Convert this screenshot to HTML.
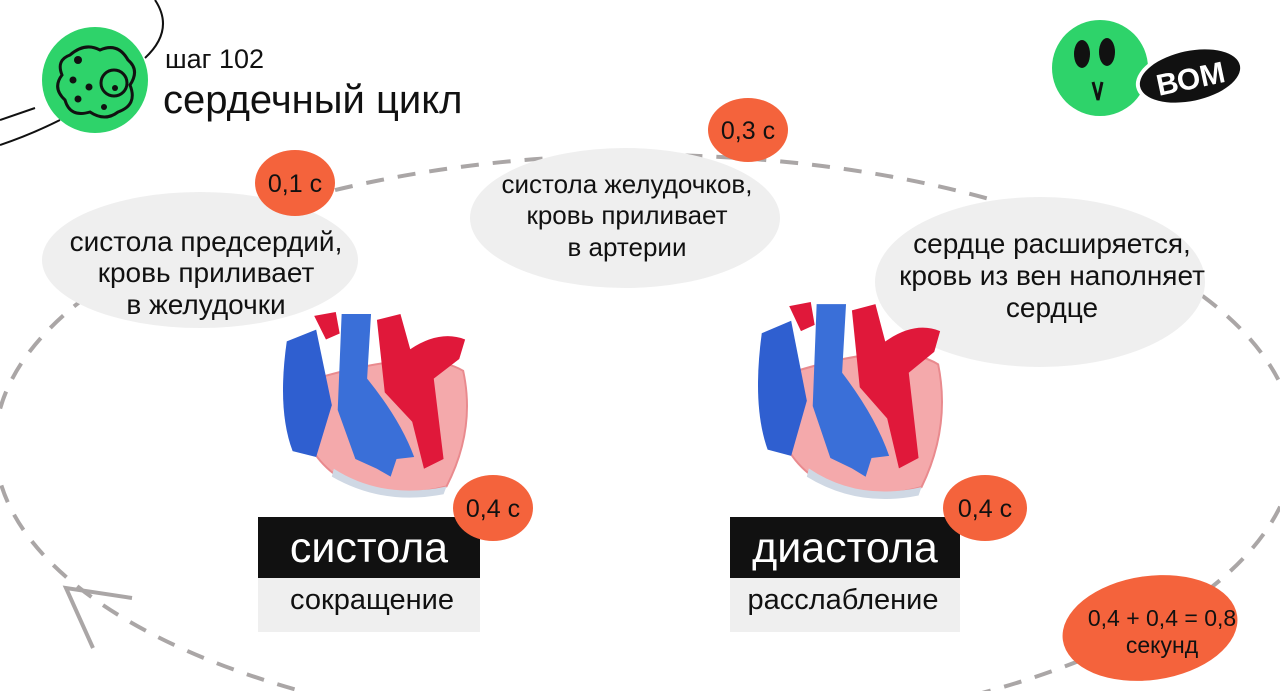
<!DOCTYPE html>
<html><head><meta charset="utf-8"><style>
html,body{margin:0;padding:0;background:#fff;width:1280px;height:691px;overflow:hidden;}
body{position:relative;font-family:"Liberation Sans","DejaVu Sans",sans-serif;}
svg{position:absolute;left:0;top:0;overflow:hidden;display:block;}
</style></head><body>
<svg width="1280" height="691" viewBox="0 0 1280 691" xmlns="http://www.w3.org/2000/svg" font-family="Liberation Sans, DejaVu Sans, sans-serif">
<defs>
<g id="heart">
 <path d="M35 70 Q15 130 60 165 Q110 195 175 178 Q205 120 192 60 Q150 35 35 70 Z" fill="#f4a9ab" stroke="#e98a8e" stroke-width="2"/>
 <path d="M60 160 Q110 192 175 178 L172 186 Q110 198 58 168 Z" fill="#cfd8e4"/>
 <path d="M12 30 L42 18 L58 95 L42 148 L18 142 Q2 100 12 30 Z" fill="#2f5fd0"/>
 <path d="M68 2 L98 2 L94 68 Q128 110 142 148 L124 150 L118 168 L104 160 L82 150 L64 100 Z" fill="#3a6fd8"/>
 <path d="M104 8 L128 2 L138 38 Q168 18 194 28 L188 48 L162 68 L172 150 L152 160 L140 112 L112 82 Z" fill="#e0183a"/>
 <path d="M40 4 L62 0 L66 22 L52 28 Z" fill="#e0183a"/>
</g>
</defs>
<ellipse cx="645" cy="445" rx="650" ry="290" fill="none" stroke="#aaa6a6" stroke-width="4" stroke-dasharray="18 14"/>
<path d="M132 598 L66 588 L93 648" fill="none" stroke="#aaa6a6" stroke-width="4"/>
<path d="M155 0 Q175 30 145 58" fill="none" stroke="#111" stroke-width="2"/>
<path d="M0 120 L35 108" stroke="#111" stroke-width="2"/>
<path d="M0 145 Q30 135 60 120" fill="none" stroke="#111" stroke-width="2"/>
<circle cx="95" cy="80" r="53" fill="#2ed36a"/>
<path d="M70 55 Q85 42 100 50 Q118 42 128 60 Q140 70 130 85 Q138 105 118 112 Q105 122 90 112 Q70 118 65 100 Q52 88 62 75 Q56 60 70 55 Z" fill="none" stroke="#111" stroke-width="3"/>
<circle cx="114" cy="83" r="13" fill="none" stroke="#111" stroke-width="3"/>
<circle cx="78" cy="60" r="4" fill="#111"/>
<circle cx="73" cy="80" r="3.5" fill="#111"/><circle cx="89" cy="87" r="3.5" fill="#111"/>
<circle cx="78" cy="99" r="3.5" fill="#111"/><circle cx="104" cy="107" r="3" fill="#111"/><circle cx="115" cy="88" r="3" fill="#111"/>
<text x="165" y="68" font-size="27" fill="#111">шаг 102</text>
<text x="163" y="113" font-size="40" fill="#111">сердечный цикл</text>
<circle cx="1100" cy="68" r="48" fill="#2ed36a"/>
<ellipse cx="1082" cy="54" rx="8" ry="14" fill="#111"/>
<ellipse cx="1107" cy="52" rx="8" ry="14" fill="#111"/>
<path d="M1093 82 L1098 100 L1102 82" fill="none" stroke="#111" stroke-width="3"/>
<ellipse cx="1190" cy="76" rx="55" ry="29" fill="#fff" transform="rotate(-12 1190 76)"/>
<ellipse cx="1190" cy="76" rx="51" ry="25" fill="#111" transform="rotate(-12 1190 76)"/>
<text x="1190" y="89" font-size="30" font-weight="bold" fill="#fff" text-anchor="middle" transform="rotate(-12 1190 76)">ВОМ</text>
<ellipse cx="200" cy="260" rx="158" ry="68" fill="#efefef"/>
<ellipse cx="625" cy="218" rx="155" ry="70" fill="#efefef"/>
<ellipse cx="1040" cy="282" rx="165" ry="85" fill="#efefef"/>
<g fill="#111" text-anchor="middle">
<g font-size="28">
<text x="206" y="251">систола предсердий,</text>
<text x="206" y="282">кровь приливает</text>
<text x="206" y="314">в желудочки</text>
</g>
<g font-size="26">
<text x="627" y="193">систола желудочков,</text>
<text x="627" y="224">кровь приливает</text>
<text x="627" y="256">в артерии</text>
</g>
<g font-size="28">
<text x="1052" y="253">сердце расширяется,</text>
<text x="1052" y="285">кровь из вен наполняет</text>
<text x="1052" y="317">сердце</text>
</g>
</g>
<use href="#heart" transform="translate(275,312) scale(0.98,0.98)"/>
<use href="#heart" transform="translate(750,302) scale(0.98,1.04)"/>
<rect x="258" y="517" width="222" height="61" fill="#111"/>
<rect x="258" y="578" width="222" height="54" fill="#efefef"/>
<rect x="730" y="517" width="230" height="61" fill="#111"/>
<rect x="730" y="578" width="230" height="54" fill="#efefef"/>
<g text-anchor="middle">
<text x="369" y="562" font-size="43" fill="#fff">систола</text>
<text x="372" y="609" font-size="29" fill="#111">сокращение</text>
<text x="845" y="562" font-size="43" fill="#fff">диастола</text>
<text x="843" y="609" font-size="29" fill="#111">расслабление</text>
</g>
<g fill="#f4633c">
<ellipse cx="295" cy="183" rx="40" ry="33"/>
<ellipse cx="748" cy="130" rx="40" ry="32"/>
<ellipse cx="493" cy="508" rx="40" ry="33"/>
<ellipse cx="985" cy="508" rx="42" ry="33"/>
<ellipse cx="1150" cy="628" rx="88" ry="52" transform="rotate(-8 1150 628)"/>
</g>
<g font-size="25" fill="#111" text-anchor="middle">
<text x="295" y="192">0,1 с</text>
<text x="748" y="139">0,3 с</text>
<text x="493" y="517">0,4 с</text>
<text x="985" y="517">0,4 с</text>
<text x="1162" y="626" font-size="23">0,4 + 0,4 = 0,8</text>
<text x="1162" y="653" font-size="23">секунд</text>
</g>
</svg>
</body></html>
